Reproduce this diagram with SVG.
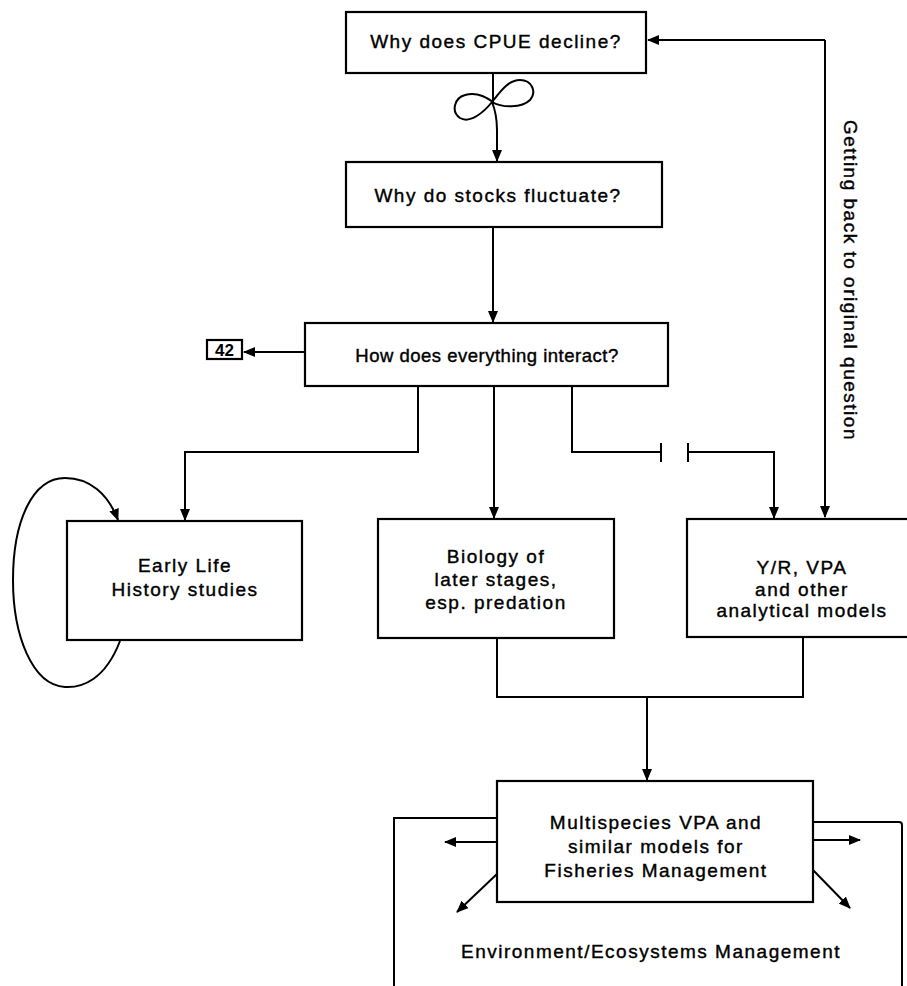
<svg xmlns="http://www.w3.org/2000/svg" width="907" height="986" viewBox="0 0 907 986">
<defs>
<marker id="ah" markerWidth="12" markerHeight="10" refX="11" refY="5" orient="auto" markerUnits="userSpaceOnUse">
<path d="M0,0 L12,5 L0,10 z" fill="#000"/>
</marker>
<style>
.box{fill:#fff;stroke:#000;stroke-width:2.2}
.ln{fill:none;stroke:#000;stroke-width:2}
.t{font-family:"Liberation Sans",Arial,sans-serif;font-size:19px;letter-spacing:1.5px;fill:#000;stroke:#000;stroke-width:0.4;text-anchor:middle}
</style>
</defs>
<rect width="907" height="986" fill="#fff"/>
<g id="connectors">
<path class="ln" d="M493,73 L493,102 C485,96 475,92 465,95 C454,98 451,112 460,118 C470,124 484,112 492,102 C500,92 508,80 520,80 C532,80 537,92 530,100 C522,108 502,108 492,102 C496,112 497,120 497,130 L497,161" marker-end="url(#ah)"/>
<path class="ln" d="M493,227 L493,322" marker-end="url(#ah)"/>
<path class="ln" d="M305,352 L244,352" marker-end="url(#ah)"/>
<path class="ln" d="M418,386 L418,452 L185,452 L185,520" marker-end="url(#ah)"/>
<path class="ln" d="M494,386 L494,518" marker-end="url(#ah)"/>
<path class="ln" d="M572,386 L572,452 L661,452 M661,443 L661,462 M688,443 L688,462 M688,452 L774,452 L774,518" marker-end="url(#ah)"/>
<path class="ln" d="M825,40 L825,517" marker-end="url(#ah)"/>
<path class="ln" d="M825,40 L648,40" marker-end="url(#ah)"/>
<path class="ln" d="M120,641 C105,680 82,688 65,687 C32,685 13,635 13,580 C13,522 32,478 65,478 C90,478 108,494 118,520" marker-end="url(#ah)"/>
<path class="ln" d="M497,638 L497,697 L803,697 L803,637"/>
<path class="ln" d="M647,697 L647,780" marker-end="url(#ah)"/>
<path class="ln" d="M497,818 L394,818 L394,986 M813,822 L899,822 Q902,822 902,825 L902,986"/>
<path class="ln" d="M497,842 L445,842" marker-end="url(#ah)"/>
<path class="ln" d="M813,840 L860,840" marker-end="url(#ah)"/>
<path class="ln" d="M497,874 L457,912" marker-end="url(#ah)"/>
<path class="ln" d="M813,870 L850,908" marker-end="url(#ah)"/>
</g>
<g id="n1"><rect class="box" x="346" y="12" width="300" height="61"/><text class="t" x="496" y="48">Why does CPUE decline?</text></g>
<g id="n2"><rect class="box" x="346" y="162" width="316" height="65"/><text class="t" x="498" y="202">Why do stocks fluctuate?</text></g>
<g id="n3"><rect class="box" x="305" y="323" width="363" height="63"/><text class="t" x="487" y="362" style="font-size:18.5px;letter-spacing:0.5px">How does everything interact?</text></g>
<g id="n42"><rect class="box" x="207" y="340" width="35" height="19"/><text x="224.5" y="356" style="font-family:'Liberation Sans',Arial,sans-serif;font-size:17px;font-weight:bold;text-anchor:middle">42</text></g>
<g id="n4"><rect class="box" x="67" y="521" width="235" height="119"/><text class="t" x="185" y="572">Early Life</text><text class="t" x="185" y="596">History studies</text></g>
<g id="n5"><rect class="box" x="378" y="519" width="236" height="119"/><text class="t" x="496" y="563">Biology of</text><text class="t" x="496" y="586">later stages,</text><text class="t" x="496" y="609">esp. predation</text></g>
<g id="n6"><rect class="box" x="687" y="519" width="240" height="118"/><text class="t" x="802" y="574">Y/R, VPA</text><text class="t" x="802" y="596">and other</text><text class="t" x="802" y="617">analytical models</text></g>
<g id="n7"><rect class="box" x="497" y="781" width="316" height="121"/><text class="t" x="656" y="829">Multispecies VPA and</text><text class="t" x="656" y="853">similar models for</text><text class="t" x="656" y="877">Fisheries Management</text></g>
<g id="n8"><text class="t" x="651" y="958">Environment/Ecosystems Management</text></g>
<g id="lbl"><text class="t" style="text-anchor:start" transform="translate(844,120) rotate(90)">Getting back to original question</text></g>
</svg>
